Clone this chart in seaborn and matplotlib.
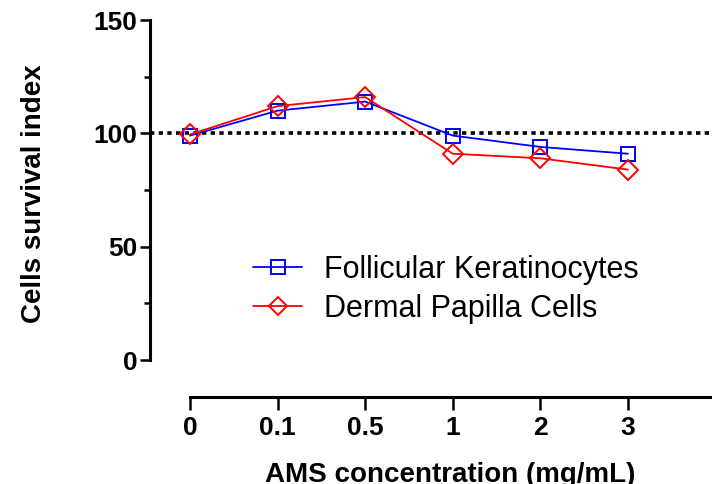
import numpy as np
import pandas as pd
import matplotlib
matplotlib.use('Agg')
import matplotlib.pyplot as plt
import seaborn as sns
from matplotlib.ticker import MultipleLocator

# data
conc_labels = ['0', '0.1', '0.5', '1', '2', '3']
keratinocytes = [99, 110, 114, 99, 94, 91]
papilla = [99.5, 112, 116, 91, 89, 84]
series_names = ['Follicular Keratinocytes', 'Dermal Papilla Cells']

pos = np.arange(len(conc_labels))
df = pd.DataFrame({
    'pos': np.concatenate([pos, pos]),
    'value': keratinocytes + papilla,
    'cells': [series_names[0]] * len(pos) + [series_names[1]] * len(pos),
})

sns.set_style('ticks')
plt.rcParams['font.family'] = ['Liberation Sans', 'DejaVu Sans']
plt.rcParams['text.color'] = 'black'
plt.rcParams['axes.labelcolor'] = 'black'
plt.rcParams['xtick.color'] = 'black'
plt.rcParams['ytick.color'] = 'black'
plt.rcParams['axes.edgecolor'] = 'black'

fig = plt.figure(figsize=(7.12, 4.84), dpi=100)
ax = fig.add_axes([150 / 712, 1 - 360 / 484, 1 - 150 / 712, 340 / 484])

colors = ['blue', 'red']
markers = ['s', 'D']
sizes = [10.5, 10]
for name, c, m, ms in zip(series_names, colors, markers, sizes):
    sub = df[df['cells'] == name]
    sns.lineplot(data=sub, x='pos', y='value', ax=ax, color=c, marker=m,
                 markersize=ms, linewidth=1.3, label=name)

for line, c in zip(ax.lines, colors):
    line.set_markerfacecolor('none')
    line.set_markeredgecolor(c)
    line.set_markeredgewidth(1.4)

ax.axhline(100, color='black', linestyle=(0, (1.2, 1.2)), linewidth=2.6, zorder=0)

ax.set_ylim(0, 150)
ax.set_xlim(-0.457, 5.96)
ax.yaxis.set_major_locator(MultipleLocator(50))
ax.yaxis.set_minor_locator(MultipleLocator(25))
ax.set_xticks(pos)
ax.set_xticklabels(conc_labels)

for s in ['top', 'right']:
    ax.spines[s].set_visible(False)
for s in ['left', 'bottom']:
    ax.spines[s].set_linewidth(2.2)
ax.spines['bottom'].set_position(('outward', 26.6))
ax.spines['bottom'].set_bounds(0, 5.96)

ax.tick_params(axis='y', which='major', length=7.2, width=1.8, pad=2,
               labelsize=19)
ax.tick_params(axis='y', which='minor', length=4, width=1.8)
ax.tick_params(axis='x', which='major', length=9, width=1.8, pad=5,
               labelsize=19)
for lab in ax.get_xticklabels() + ax.get_yticklabels():
    lab.set_fontweight('bold')

ax.set_ylabel('Cells survival index', fontsize=20, fontweight='bold')
ax.yaxis.set_label_coords(-0.183, 0.49)
ax.set_xlabel('AMS concentration (mg/mL)', fontsize=20, fontweight='bold')
ax.xaxis.set_label_coords(0.534, -0.3)

leg = ax.legend(loc='upper left', bbox_to_anchor=(0.135, 0.39), frameon=False,
                fontsize=22, handlelength=1.6, handletextpad=0.7,
                labelspacing=0.3, markerscale=0.9)

fig.savefig('out.png', dpi=100)
